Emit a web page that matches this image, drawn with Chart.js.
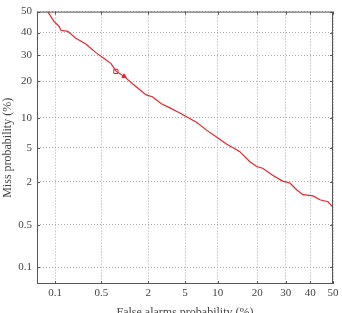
<!DOCTYPE html>
<html lang="en">
<head>
    <meta charset="UTF-8">
    <title>DET curve</title>
    <script src="https://cdn.jsdelivr.net/npm/chart.js"></script>
    <style>
        html, body { margin: 0; padding: 0; background: #fff; overflow: hidden; }
        canvas { display: block; }
    </style>
</head>
<body>
    <canvas id="detChart" width="342" height="313"></canvas>
    <script>
// all values in percent
const faTicks = [0.1, 0.5, 2, 5, 10, 20, 30, 40, 50];
const missTicks = [0.1, 0.5, 2, 5, 10, 20, 30, 40, 50];
const axisMin = 0.05;
const axisMax = 50;

const faCurve = [0.076, 0.096, 0.116, 0.124, 0.16, 0.21, 0.30, 0.42, 0.53, 0.68, 0.80, 1.01, 1.36, 1.89, 2.23, 2.82, 3.45, 4.38, 5.28, 6.45, 7.99, 9.77, 11.8, 14.2, 15.0, 17.7, 19.8, 21.7, 25.1, 28.8, 31.6, 34.4, 36.9, 41.2, 44.2, 47.8, 50];
const missCurve = [50, 45.3, 43.0, 41.1, 40.6, 37.5, 34.8, 31.0, 28.9, 26.5, 23.5, 21.7, 18.7, 15.7, 15.2, 13.3, 12.3, 11.1, 10.1, 9.06, 7.61, 6.49, 5.50, 4.76, 4.53, 3.51, 3.07, 2.92, 2.41, 2.03, 1.92, 1.56, 1.35, 1.30, 1.15, 1.08, 0.90];

const opFa = [0.79, 1.01];
const opMiss = [23.5, 21.7];

// inverse normal cdf (Acklam)
function probit(p) {
    const a = [-3.969683028665376e+01, 2.209460984245205e+02, -2.759285104469687e+02, 1.383577518672690e+02, -3.066479806614716e+01, 2.506628277459239e+00];
    const b = [-5.447609879822406e+01, 1.615858368580409e+02, -1.556989798598866e+02, 6.680131188771972e+01, -1.328068155288572e+01];
    const c = [-7.784894002430293e-03, -3.223964580411365e-01, -2.400758277161838e+00, -2.549732539343734e+00, 4.374664141464968e+00, 2.938163982698783e+00];
    const d = [7.784695709041462e-03, 3.224671290700398e-01, 2.445134137142996e+00, 3.754408661907416e+00];
    const pl = 0.02425;
    let q, r;
    if (p < pl) {
        q = Math.sqrt(-2 * Math.log(p));
        return (((((c[0]*q+c[1])*q+c[2])*q+c[3])*q+c[4])*q+c[5]) / ((((d[0]*q+d[1])*q+d[2])*q+d[3])*q+1);
    }
    if (p <= 1 - pl) {
        q = p - 0.5; r = q * q;
        return (((((a[0]*r+a[1])*r+a[2])*r+a[3])*r+a[4])*r+a[5])*q / (((((b[0]*r+b[1])*r+b[2])*r+b[3])*r+b[4])*r+1);
    }
    q = Math.sqrt(-2 * Math.log(1 - p));
    return -(((((c[0]*q+c[1])*q+c[2])*q+c[3])*q+c[4])*q+c[5]) / ((((d[0]*q+d[1])*q+d[2])*q+d[3])*q+1);
}
const z = v => probit(v / 100);

const curvePts = faCurve.map((f, i) => ({ x: z(f), y: z(missCurve[i]) }));

const fontSerif = { family: "'Liberation Serif', 'DejaVu Serif', serif", size: 11 };
const titleFont = { family: "'Liberation Serif', 'DejaVu Serif', serif", size: 12 };

// frame + inner tick marks
const framePlugin = {
    id: 'frame',
    afterDraw(chart) {
        const { ctx, chartArea: a, scales } = chart;
        ctx.save();
        ctx.strokeStyle = '#555';
        ctx.lineWidth = 1;
        ctx.strokeRect(a.left + 0.5, a.top + 0.5, a.right - a.left - 1, a.bottom - a.top - 1);
        ctx.beginPath();
        faTicks.forEach(t => {
            const px = Math.round(scales.x.getPixelForValue(z(t))) + 0.5;
            ctx.moveTo(px, a.bottom); ctx.lineTo(px, a.bottom - 3);
            ctx.moveTo(px, a.top); ctx.lineTo(px, a.top + 3);
        });
        missTicks.forEach(t => {
            const py = Math.round(scales.y.getPixelForValue(z(t))) + 0.5;
            ctx.moveTo(a.left, py); ctx.lineTo(a.left + 3, py);
            ctx.moveTo(a.right, py); ctx.lineTo(a.right - 3, py);
        });
        ctx.stroke();
        ctx.restore();
    }
};

new Chart(document.getElementById('detChart'), {
    type: 'scatter',
    data: {
        datasets: [
            {
                label: 'DET',
                data: curvePts,
                showLine: true,
                borderColor: '#e5262b',
                borderWidth: 1.2,
                pointRadius: 0,
                tension: 0
            },
            {
                label: 'op',
                data: opFa.map((f, i) => ({ x: z(f), y: z(opMiss[i]) })),
                pointStyle: ['rect', 'triangle'],
                pointRadius: [3, 2.5],
                borderColor: '#e5262b',
                backgroundColor: ['rgba(0,0,0,0)', '#e5262b'],
                borderWidth: 1
            }
        ]
    },
    options: {
        responsive: false,
        animation: false,
        layout: { padding: { top: 5, right: 9, left: 0, bottom: 0 } },
        plugins: { legend: { display: false }, tooltip: { enabled: false } },
        scales: {
            x: {
                type: 'linear',
                min: z(axisMin),
                max: z(axisMax),
                afterBuildTicks: s => { s.ticks = faTicks.map(t => ({ value: z(t) })); },
                afterFit: s => { s.height = 29; },
                ticks: {
                    autoSkip: false,
                    maxRotation: 0,
                    padding: 3,
                    color: '#444',
                    font: fontSerif,
                    callback: (v, i) => String(faTicks[i])
                },
                grid: { color: '#aaa', drawTicks: false, lineWidth: 1 },
                border: { display: false, dash: [1, 2] },
                title: {
                    display: true,
                    text: 'False alarms probability (%)',
                    color: '#444',
                    font: titleFont,
                    padding: { top: 0, bottom: -7 }
                }
            },
            y: {
                type: 'linear',
                min: z(axisMin),
                max: z(axisMax),
                afterBuildTicks: s => { s.ticks = missTicks.map(t => ({ value: z(t) })); },
                afterFit: s => { s.width = 37; },
                ticks: {
                    autoSkip: false,
                    padding: 5,
                    color: '#444',
                    font: fontSerif,
                    callback: (v, i) => String(missTicks[i])
                },
                grid: { color: '#aaa', drawTicks: false, lineWidth: 1 },
                border: { display: false, dash: [1, 2] },
                title: {
                    display: true,
                    text: 'Miss probability (%)',
                    color: '#444',
                    font: titleFont,
                    padding: { top: 1, bottom: 0 }
                }
            }
        }
    },
    plugins: [framePlugin]
});
    </script>
</body>
</html>
